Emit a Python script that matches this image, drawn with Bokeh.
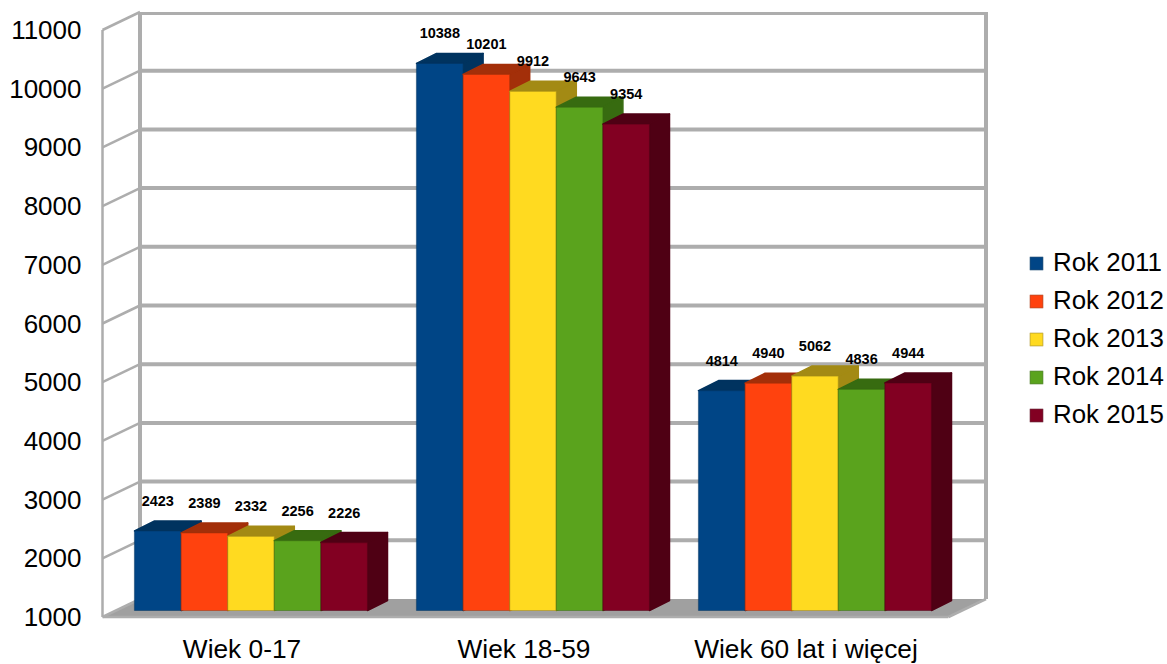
from bokeh.plotting import figure
from bokeh.models import Legend, LegendItem, FixedTicker, Range1d, ColumnDataSource
from bokeh.core.properties import value
from bokeh.embed import file_html
from bokeh.resources import INLINE

categories = ["Wiek 0-17", "Wiek 18-59", "Wiek 60 lat i więcej"]
years = ["Rok 2011", "Rok 2012", "Rok 2013", "Rok 2014", "Rok 2015"]
rok_2011 = [2423, 10388, 4814]
rok_2012 = [2389, 10201, 4940]
rok_2013 = [2332, 9912, 5062]
rok_2014 = [2256, 9643, 4836]
rok_2015 = [2226, 9354, 4944]
series = [rok_2011, rok_2012, rok_2013, rok_2014, rok_2015]
y_ticks = [1000, 2000, 3000, 4000, 5000, 6000, 7000, 8000, 9000, 10000, 11000]

front_colors = ["#004586", "#ff420e", "#ffda20", "#5aa31d", "#820022"]
shade_colors = ["#00335f", "#a32f09", "#a38a14", "#376b10", "#4f0014"]

FONT = "Liberation Sans"
GRID = "#adadad"
FLOOR = "#a0a0a0"

# scale: pixels per data unit
PX_X = 282.0
PX_Y = 0.0587

W, H = 1167, 664
BORDER_L = 98
frame_left = BORDER_L
frame_bottom = H
zero_x = 241.5
y1000 = 616.5

x_range = Range1d((frame_left - zero_x) / PX_X, (W - zero_x) / PX_X)
y_range = Range1d(1000 - (frame_bottom - y1000) / PX_Y, 1000 + y1000 / PX_Y)

p = figure(width=W, height=H, x_range=x_range, y_range=y_range,
           output_backend="svg", toolbar_location=None, tools="",
           min_border_left=BORDER_L, min_border_right=0, min_border_top=0,
           min_border_bottom=0, background_fill_color="white",
           border_fill_color="white", outline_line_color=None)
p.grid.visible = False

# --- axes
p.yaxis.ticker = FixedTicker(ticks=y_ticks)
p.yaxis.axis_line_color = None
p.yaxis.major_tick_line_color = None
p.yaxis.minor_tick_line_color = None
p.yaxis.major_label_text_font = FONT
p.yaxis.major_label_text_font_size = "26px"
p.yaxis.major_label_text_color = "#000000"
p.yaxis.major_label_standoff = 17
p.yaxis.major_tick_in = 0
p.yaxis.major_tick_out = 0

p.xaxis.ticker = FixedTicker(ticks=list(range(len(categories))))
p.xaxis.major_label_overrides = {i: c for i, c in enumerate(categories)}
p.xaxis.axis_line_color = None
p.xaxis.major_tick_line_color = None
p.xaxis.minor_tick_line_color = None
p.xaxis.major_label_text_font = FONT
p.xaxis.major_label_text_font_size = "26.3px"
p.xaxis.major_label_text_color = "#000000"
p.xaxis.major_label_standoff = 15
p.xaxis.major_tick_in = 0
p.xaxis.major_tick_out = 0
p.xaxis.fixed_location = 1000 - (618 - y1000) / PX_Y

# --- chart walls
wall_dx = 37.5 / PX_X
wall_dy = 18.0 / PX_Y
wall_left = (102 - zero_x) / PX_X
wall_right = wall_left + (948 - 102) / PX_X
base = y_ticks[0]
top = y_ticks[-1]

p.patch([wall_left, wall_right, wall_right + wall_dx, wall_left + wall_dx],
        [base, base, base + wall_dy, base + wall_dy],
        fill_color=FLOOR, line_color=None)

inner = y_ticks[1:-1]
p.segment([wall_left + wall_dx] * len(inner), [v + wall_dy for v in inner],
          [wall_right + wall_dx] * len(inner), [v + wall_dy for v in inner],
          line_color=GRID, line_width=4)
p.segment([wall_left + wall_dx], [top + wall_dy - 1.5 / PX_Y],
          [wall_right + wall_dx], [top + wall_dy - 1.5 / PX_Y],
          line_color=GRID, line_width=3)
p.segment([wall_left] * len(y_ticks[1:]), y_ticks[1:],
          [wall_left + wall_dx] * len(y_ticks[1:]), [v + wall_dy for v in y_ticks[1:]],
          line_color=GRID, line_width=2.5)
p.segment([wall_left], [base], [wall_left], [top], line_color=GRID, line_width=2.5)
p.segment([wall_left + wall_dx], [base + wall_dy], [wall_left + wall_dx], [top + wall_dy],
          line_color=GRID, line_width=4)
p.segment([wall_right + wall_dx], [base + wall_dy], [wall_right + wall_dx], [top + wall_dy],
          line_color=GRID, line_width=4)
p.segment([wall_left], [base], [wall_right], [base], line_color=GRID, line_width=2.5)
p.segment([wall_left], [base], [wall_left + wall_dx], [base + wall_dy], line_color=GRID, line_width=2.5)
p.segment([wall_right], [base], [wall_right + wall_dx], [base + wall_dy], line_color=GRID, line_width=2.5)

# --- bars
BAR_W = 46.6 / PX_X
GROUP_OFF = (134 - zero_x) / PX_X
BAR_DX = 20.0 / PX_X
BAR_DY = 10.0 / PX_Y
TOP_SHIFT = 2.5 / PX_Y
BAR_BOTTOM = base + 6.5 / PX_Y

renderers = []
for s, vals in enumerate(series):
    lefts = [g + GROUP_OFF + s * BAR_W for g in range(len(vals))]
    rights = [l + BAR_W for l in lefts]
    tops = [v + TOP_SHIFT for v in vals]
    bottoms = [BAR_BOTTOM] * len(vals)
    p.patches(
        [[r, r + BAR_DX, r + BAR_DX, r] for r in rights],
        [[t, t + BAR_DY, b + BAR_DY, b] for t, b in zip(tops, bottoms)],
        fill_color=shade_colors[s], line_color=shade_colors[s], line_width=1.5, line_join="round")
    p.patches(
        [[l, r, r + BAR_DX, l + BAR_DX] for l, r in zip(lefts, rights)],
        [[t, t, t + BAR_DY, t + BAR_DY] for t in tops],
        fill_color=shade_colors[s], line_color=shade_colors[s], line_width=1.5, line_join="round")
    src = ColumnDataSource(dict(l=lefts, r=rights, t=tops, b=bottoms))
    r = p.quad(left="l", right="r", top="t", bottom="b", source=src,
               fill_color=front_colors[s], line_color=shade_colors[s], line_alpha=0.5,
               line_width=1.2)
    renderers.append(r)
    centers = [(l + rr) / 2 for l, rr in zip(lefts, rights)]
    p.text(centers, tops, text=[str(v) for v in vals], text_font=value(FONT),
           text_font_style="bold", text_font_size="14.5px", text_color="#000000",
           text_align="center", text_baseline="middle", y_offset=-30)

legend = Legend(items=[LegendItem(label=value(y), renderers=[r]) for y, r in zip(years, renderers)],
                location=(930, 235), orientation="vertical",
                border_line_color=None, background_fill_alpha=0,
                glyph_width=16, glyph_height=16, label_standoff=9,
                label_text_font=FONT, label_text_font_size="25.9px",
                label_text_color="#000000", padding=0, margin=0, spacing=9)
p.add_layout(legend)

open("out.html", "w").write(file_html(p, INLINE))
